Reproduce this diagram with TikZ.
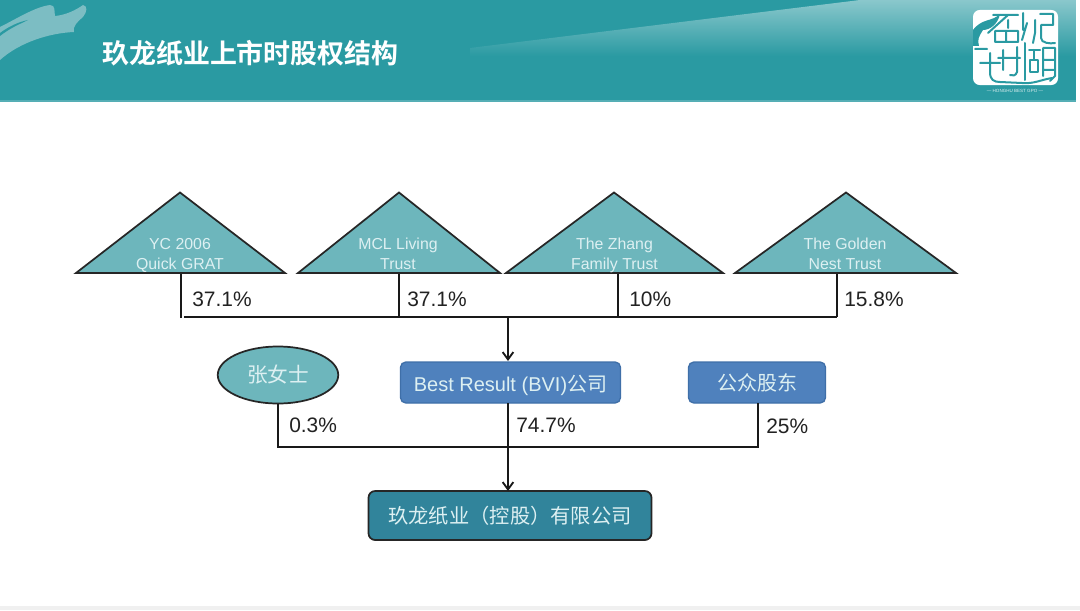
\documentclass[tikz,border=0pt]{standalone}
\usepackage{fontspec}
\setmainfont{Liberation Sans}
\newfontfamily\cjk{Noto Sans CJK SC}
\newfontfamily\cjkb{Noto Sans CJK SC}[BoldFont={Noto Sans CJK SC Bold}]
\usetikzlibrary{shapes.geometric,arrows.meta}
\definecolor{tealtop}{HTML}{2A9AA2}
\definecolor{trifill}{HTML}{6DB6BC}
\definecolor{bluebox}{HTML}{4F81BD}
\definecolor{blueedge}{HTML}{3F6FA8}
\definecolor{darkbox}{HTML}{31849B}
\definecolor{labelink}{HTML}{222222}
\definecolor{softwhite}{HTML}{DDF0F2}
\tikzset{
  tri/.style={fill=trifill,draw=black!85,line width=1.3pt,line join=miter},
  trilabel/.style={text=softwhite,font=\fontsize{11.9}{15}\selectfont,align=center,inner sep=0pt,anchor=north},
  pct/.style={text=labelink,font=\fontsize{15.7}{18}\selectfont,anchor=west,inner sep=0pt},
  link/.style={draw=black!90,line width=1.5pt},
  arrowlink/.style={link,-{Straight Barb[length=5.5pt,width=8pt,line width=1.4pt]}},
  logoline/.style={draw=tealtop,line width=1.5pt,line cap=round,line join=round}
}
\begin{document}
\begin{tikzpicture}[x=0.75pt,y=-0.75pt]
\useasboundingbox (0,0) rectangle (1080,610);
\fill[white] (0,0) rectangle (1080,610);
\fill[black!6] (0,606) rectangle (1080,610);
% header
\fill[tealtop] (0,0) rectangle (1076,101);
\fill[tealtop!80!white] (0,100) rectangle (1076,101.5);
\begin{scope}
\clip (470,48) -- (860,0) -- (1076,0) -- (1076,60) -- (470,60) -- cycle;
\shade[top color=tealtop!55!white,bottom color=tealtop] (440,0) rectangle (1076,56);
\end{scope}
\fill[trifill!90!white] (0,27) .. controls (18,18) and (35,7) .. (50,5) .. controls (56,5) and (54,12) .. (55,16) .. controls (66,15) and (76,10) .. (83,5) .. controls (88,6) and (87,12) .. (83,17) .. controls (78,21) and (72,27) .. (74,32) .. controls (50,33) and (20,42) .. (0,60) -- cycle;
\fill[tealtop] (0,33) .. controls (8,27) and (18,22) .. (28,20) .. controls (20,24) and (10,28) .. (0,36) -- cycle;
\node[inner sep=0pt,anchor=west,text=white,font=\cjkb\bfseries\fontsize{20.2}{22}\selectfont] (title) at (102,53) {玖龙纸业上市时股权结构};
% logo
\fill[white,rounded corners=5pt] (973,10) rectangle (1058,85);
\fill[tealtop] (973,30) .. controls (982,18) and (992,22) .. (1000,14) .. controls (998,24) and (990,30) .. (983,30) .. controls (979,36) and (977,40) .. (979,46) -- (973,46) -- cycle;
\draw[logoline] (993,15) -- (1018,15) (1008,15) -- (988,33) (1008,20) -- (1008,28) (995,31) -- (1018,31) -- (1018,42) -- (995,42) -- cycle (1006,31) -- (1006,42);
\draw[logoline] (975,49) -- (987,49) (980,63) -- (1000,63) (990,53) -- (990,72) .. controls (990,80) and (994,82) .. (1000,82) -- (1022,83) .. controls (1034,84) and (1040,80) .. (1052,78);
\draw[logoline] (1003,50) -- (1003,70) (1017,47) -- (1017,72) .. controls (1016,76) and (1012,76) .. (1010,75) (998,58) -- (1020,58);
\draw[logoline] (1023,13) -- (1023,30) (1027,23) -- (1022,40) (1035,20) -- (1035,33) -- (1033,43) (1040,14) -- (1053,14) -- (1053,25) -- (1041,25) -- (1041,38) .. controls (1041,43) and (1050,44) .. (1055,43);
\draw[logoline] (1025,43) -- (1025,80) (1029,50) -- (1040,50) (1034,50) -- (1034,59) (1030,60) -- (1038,60) -- (1038,72) -- (1030,72) -- cycle;
\draw[logoline] (1043,48) -- (1055,48) -- (1055,76) -- (1050,81) (1043,48) -- (1043,76) (1043,60) -- (1055,60) (1043,70) -- (1055,70);
\node[inner sep=0pt,text=white!85!tealtop,font=\fontsize{3.4}{4}\selectfont] (logotext) at (1015,91) {— HONGHU BEST GPO —};
% triangles
\filldraw[tri] (76,273) -- (180,192.5) -- (285,273) -- cycle;
\filldraw[tri] (298,273) -- (399,192.5) -- (500,273) -- cycle;
\filldraw[tri] (506,273) -- (614,192.5) -- (723,273) -- cycle;
\filldraw[tri] (735,273) -- (846,192.5) -- (956,273) -- cycle;
\node[trilabel] (t1) at (180,237.8) {YC 2006\\Quick GRAT};
\node[trilabel] (t2) at (398,237.8) {MCL Living\\Trust};
\node[trilabel] (t3) at (614.5,237.8) {The Zhang\\Family Trust};
\node[trilabel] (t4) at (845,237.8) {The Golden\\Nest Trust};
\coordinate (b1) at (181,274);
\coordinate (b2) at (399,274);
\coordinate (b3) at (618,274);
\coordinate (b4) at (837,274);
\coordinate (j1) at (181,318);
\coordinate (j0) at (184,317);
\coordinate (j2) at (399,317);
\coordinate (j3) at (618,317);
\coordinate (j4) at (837,317);
\coordinate (jm) at (508,317);
\draw[link] (b1) -- (j1);
\draw[link] (b2) -- (j2);
\draw[link] (b3) -- (j3);
\draw[link] (b4) -- (j4);
\draw[link] (j0) -- (j4);
\node[pct] (p1) at (192,299) {37.1\%};
\node[pct] (p2) at (407,299) {37.1\%};
\node[pct] (p3) at (629,299) {10\%};
\node[pct] (p4) at (844,299) {15.8\%};
% middle row
\node[ellipse,fill=trifill,draw=black!85,line width=1.3pt,minimum width=120.5pt*0.75,minimum height=57pt*0.75,inner sep=0pt,text=softwhite,font=\cjk\fontsize{15.5}{18}\selectfont] (zhang) at (278,375) {张女士};
\node[rounded corners=4pt,fill=bluebox,draw=blueedge,line width=1pt,minimum width=220pt*0.75,minimum height=41pt*0.75,inner sep=0pt,text=softwhite,font=\fontsize{15}{17}\selectfont] (best) at (510.5,382.5) {\rule{0pt}{16pt}Best Result (BVI){\cjk 公司}};
\node[rounded corners=4pt,fill=bluebox,draw=blueedge,line width=1pt,minimum width=137pt*0.75,minimum height=41pt*0.75,inner sep=0pt,text=softwhite,font=\cjk\fontsize{15}{17}\selectfont] (public) at (757,382.5) {公众股东};
\node[rounded corners=5pt,fill=darkbox,draw=black!85,line width=1.3pt,minimum width=283pt*0.75,minimum height=49pt*0.75,inner sep=0pt,text=softwhite,font=\cjk\fontsize{15.2}{18}\selectfont] (jiulong) at (510,515.5) {玖龙纸业（控股）有限公司};
\coordinate (topin) at (508,361);
\coordinate (bestout) at (508,403);
\coordinate (jlin) at (508,491);
\coordinate (zhout) at (278,404);
\coordinate (puout) at (758,403);
\coordinate (l1) at (278,447);
\coordinate (l2) at (758,447);
\draw[arrowlink] (jm) -- (topin);
\draw[arrowlink] (bestout) -- (jlin);
\draw[link] (zhout) -- (l1) -- (l2) -- (puout);
\node[pct] (p5) at (289,425) {0.3\%};
\node[pct] (p6) at (516,425) {74.7\%};
\node[pct] (p7) at (766,426) {25\%};
\end{tikzpicture}
\end{document}
